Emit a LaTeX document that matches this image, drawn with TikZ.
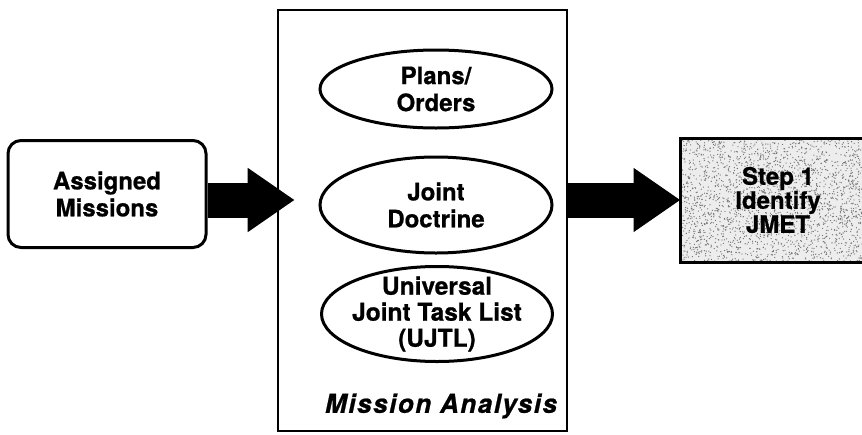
\documentclass[tikz,border=0pt]{standalone}
\usepackage{fontspec}
\setmainfont{TeX Gyre Heros}
\usetikzlibrary{arrows.meta,shapes.geometric,calc}
\newcommand{\heavy}{\bfseries\addfontfeature{FakeBold=0.8}}
\begin{document}
\begin{tikzpicture}[x=1pt,y=-1pt,
  txt/.style={align=center, font=\heavy\fontsize{24}{27}\selectfont},
  box/.style={draw, line width=3pt, txt},
  oval/.style={ellipse, draw, line width=3pt, inner sep=0pt},
  blockarrow/.style={line width=35pt, -{Triangle[length=47pt,width=61pt]}}
]
\useasboundingbox (0,0) rectangle (862,434);

% input box
\node[box, rounded corners=13pt, minimum width=198pt, minimum height=107pt]
  (am) at (107,194) {Assigned\\Missions};

% mission analysis frame with its three sources
\node[draw, line width=2.6pt, minimum width=289pt, minimum height=421pt]
  (ma) at (422.5,220.5) {};
\node[oval, minimum width=232pt, minimum height=78pt] (po) at (436,89) {};
\node[txt] (po-t) at (po.center) {Plans/\\Orders};
\node[oval, minimum width=232pt, minimum height=96pt] (jd) at (436,205) {};
\node[txt] (jd-t) at (jd.center) {Joint\\Doctrine};
\node[oval, minimum width=231pt, minimum height=95pt] (uj) at (437,314) {};
\node[txt, font=\heavy\fontsize{24.5}{26}\selectfont] (uj-t) at (uj.center)
  {Universal\\Joint Task List\\(UJTL)};
\node[font=\bfseries\itshape\fontsize{26}{30}\selectfont\addfontfeature{LetterSpace=6,FakeBold=0.8}]
  (lbl) at (441,406) {Mission Analysis};

% stippled step box
\begin{scope}
  \clip (680,138) rectangle (876,262);
  \fill[black!7] (680,138) rectangle (876,262);
  \pgfmathsetseed{11}
  \foreach \i in {1,...,2400}
    \fill[black!55] (680+196*rnd,138+124*rnd) circle (0.65pt);
\end{scope}
\node[box, minimum width=196pt, minimum height=124pt, font=\heavy\fontsize{24}{24}\selectfont]
  (st) at (778,200) {Step 1\\Identify\\JMET};

% block arrows
\coordinate (a1) at ($(am.east)+(0,6)$);
\coordinate (a2) at ($(ma.west)+(18,-20.5)$);
\coordinate (b1) at ($(ma.east)+(0,-20.5)$);
\coordinate (b2) at ($(st.west)+(2,0)$);
\draw[blockarrow] (a1) -- (a2);
\draw[blockarrow] (b1) -- (b2);
\end{tikzpicture}
\end{document}
